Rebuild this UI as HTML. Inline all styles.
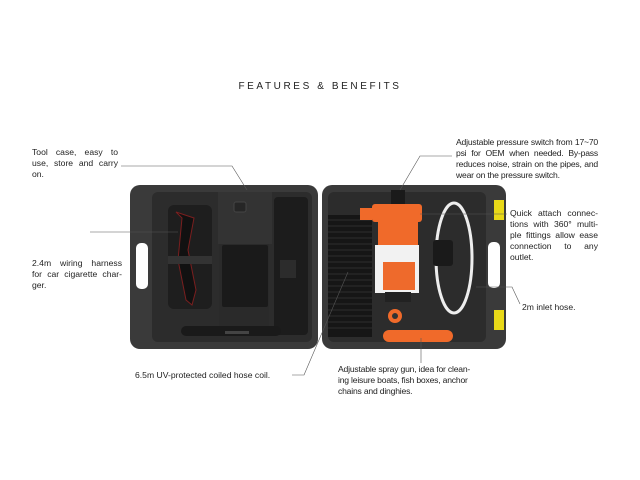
<!DOCTYPE html>
<html><head><meta charset="utf-8"><style>
body{margin:0;width:640px;height:480px;background:#fff;position:relative;overflow:hidden;font-family:"Liberation Sans",sans-serif;}
.t{position:absolute;font-size:8.6px;line-height:11px;color:#222;}
.t div{text-align:justify;text-align-last:justify;white-space:nowrap;height:11px}
.t div.l{text-align-last:left}
svg{position:absolute;left:0;top:0}
</style></head><body>
<svg width="640" height="480" viewBox="0 0 640 480">
<rect x="130" y="185" width="188" height="164" rx="10" fill="#3a3a3a"/>
<rect x="136" y="243" width="12" height="46" rx="5" fill="#fff"/>
<rect x="152" y="192" width="160" height="150" rx="6" fill="#2c2c2c"/>
<rect x="168" y="205" width="44" height="104" rx="6" fill="#1e1e1e"/>
<path d="M176 212 L182 218 L178 260 L186 300 L192 305 L196 290 L188 250 L194 218 Z" fill="#111" stroke="#7a1f1f" stroke-width="1"/>
<rect x="168" y="256" width="44" height="8" fill="#333"/>
<rect x="218" y="192" width="54" height="52" fill="#333"/>
<rect x="234" y="202" width="12" height="10" rx="2" fill="#262626" stroke="#444"/>
<rect x="219" y="244" width="50" height="92" fill="#2a2a2a"/>
<rect x="222" y="245" width="46" height="62" rx="2" fill="#1a1a1a"/>
<rect x="274" y="197" width="34" height="138" rx="4" fill="#1c1c1c"/>
<rect x="280" y="260" width="16" height="18" fill="#2c2c2c"/>
<rect x="181" y="326" width="100" height="10" rx="5" fill="#1a1a1a"/>
<rect x="225" y="331" width="24" height="3" fill="#444"/>
<rect x="322" y="185" width="184" height="164" rx="10" fill="#3a3a3a"/>
<rect x="494" y="200" width="10" height="20" fill="#e8d818"/>
<rect x="494" y="310" width="10" height="20" fill="#e8d818"/>
<rect x="488" y="242" width="12" height="46" rx="5" fill="#fff"/>
<rect x="328" y="192" width="158" height="150" rx="6" fill="#2c2c2c"/>
<rect x="328" y="215" width="44" height="122" fill="#161616"/>
<g stroke="#2e2e2e" stroke-width="1">
<line x1="328" y1="220" x2="372" y2="220"/><line x1="328" y1="226" x2="372" y2="226"/><line x1="328" y1="232" x2="372" y2="232"/><line x1="328" y1="238" x2="372" y2="238"/><line x1="328" y1="244" x2="372" y2="244"/><line x1="328" y1="250" x2="372" y2="250"/><line x1="328" y1="256" x2="372" y2="256"/><line x1="328" y1="262" x2="372" y2="262"/><line x1="328" y1="268" x2="372" y2="268"/><line x1="328" y1="274" x2="372" y2="274"/><line x1="328" y1="280" x2="372" y2="280"/><line x1="328" y1="286" x2="372" y2="286"/><line x1="328" y1="292" x2="372" y2="292"/><line x1="328" y1="298" x2="372" y2="298"/><line x1="328" y1="304" x2="372" y2="304"/><line x1="328" y1="310" x2="372" y2="310"/><line x1="328" y1="316" x2="372" y2="316"/><line x1="328" y1="322" x2="372" y2="322"/><line x1="328" y1="328" x2="372" y2="328"/>
</g>
<rect x="360" y="208" width="12" height="12" fill="#f06a2a"/>
<rect x="372" y="204" width="50" height="18" rx="3" fill="#f06a2a"/>
<rect x="378" y="218" width="40" height="28" fill="#f06a2a"/>
<rect x="375" y="245" width="44" height="48" fill="#f2f2f2"/>
<rect x="383" y="262" width="32" height="28" fill="#ee6a2c"/>
<rect x="385" y="292" width="26" height="10" fill="#222"/>
<circle cx="395" cy="316" r="7" fill="#f06a2a"/><circle cx="395" cy="316" r="3" fill="#333"/>
<rect x="383" y="330" width="70" height="12" rx="6" fill="#f06a2a"/>
<ellipse cx="454" cy="258" rx="18" ry="55" fill="none" stroke="#eee" stroke-width="3"/>
<rect x="433" y="240" width="20" height="26" rx="3" fill="#1a1a1a"/>
<rect x="391" y="190" width="14" height="14" fill="#1a1a1a"/>
<g fill="none" stroke="#555" stroke-width="0.6">
<polyline points="121,166 232,166 247,190"/>
<polyline points="452,156 420,156 400,190"/>
<polyline points="507,214 420,214"/>
<polyline points="178,232 90,232"/>
<polyline points="476,287 512,287 520,304"/>
<polyline points="292,375 304,375 348,272"/>
<polyline points="421,338 421,363"/>
</g>
</svg>
<div style="position:absolute;left:0;width:640px;top:81px;text-align:center;font-size:10px;letter-spacing:2.6px;color:#222;">FEATURES &amp; BENEFITS</div>
<div class="t" style="left:32px;top:147px;width:86px"><div>Tool case, easy to</div><div>use, store and carry</div><div class="l">on.</div></div>
<div class="t" style="left:456px;top:137px;width:142px;letter-spacing:-0.2px"><div>Adjustable pressure switch from 17~70</div><div>psi for OEM when needed. By-pass</div><div>reduces noise, strain on the pipes, and</div><div class="l">wear on the pressure switch.</div></div>
<div class="t" style="left:510px;top:208px;width:88px"><div>Quick attach connec-</div><div>tions with 360° multi-</div><div>ple fittings allow ease</div><div>connection to any</div><div class="l">outlet.</div></div>
<div class="t" style="left:32px;top:258px;width:90px"><div>2.4m wiring harness</div><div>for car cigarette char-</div><div class="l">ger.</div></div>
<div class="t" style="left:522px;top:302px;width:80px"><div class="l">2m inlet hose.</div></div>
<div class="t" style="left:135px;top:370px;width:160px"><div class="l">6.5m UV-protected coiled hose coil.</div></div>
<div class="t" style="left:338px;top:364px;width:94px;letter-spacing:-0.2px"><div>Adjustable spray gun, idea for clean-</div><div>ing leisure boats, fish boxes, anchor</div><div class="l">chains and dinghies.</div></div>
</body></html>
